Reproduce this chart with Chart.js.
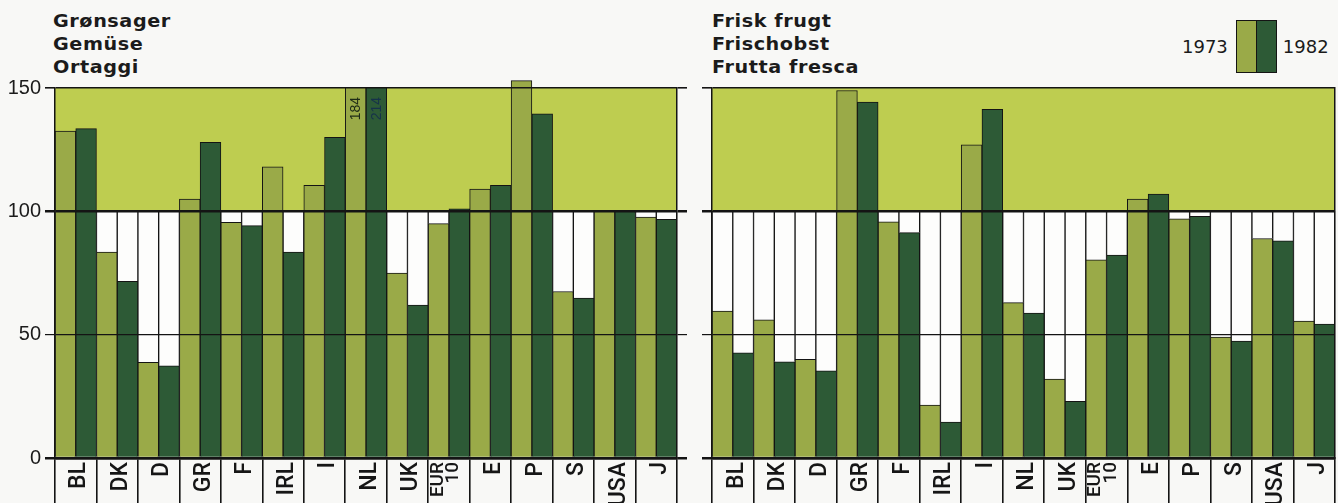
<!DOCTYPE html>
<html>
<head>
<meta charset="utf-8">
<title>Grønsager / Frisk frugt 1973–1982</title>
<script src="https://cdn.jsdelivr.net/npm/chart.js@4.4.1/dist/chart.umd.min.js"></script>
<style>
  body { margin: 0; background: #f8f8f6; }
  #wrap { position: relative; width: 1338px; height: 503px; overflow: hidden; }
  #wrap canvas { position: absolute; top: 0; }
  .title { position: absolute; top: 10px; font: bold 17px "DejaVu Sans", sans-serif; line-height: 23px; color: #1b1b1b;
           letter-spacing: 0.5px; transform: scaleX(1.13); transform-origin: left top; }
  .legend { position: absolute; top: 20px; left: 1182px; display: flex; align-items: center; font: 18px "DejaVu Sans", sans-serif; color: #1b1b1b; }
  .legend .box { display: flex; height: 51px; border: 1.5px solid #141414; margin: 0 6px 0 8px; }
  .legend .box span { width: 19px; height: 100%; }
  .legend .box span + span { border-left: 1.5px solid #141414; }
</style>
</head>
<body>
<div id="wrap">
  <div class="title" style="left:53px">Grønsager<br>Gemüse<br>Ortaggi</div>
  <div class="title" style="left:712px">Frisk frugt<br>Frischobst<br>Frutta fresca</div>
  <div class="legend" id="legend"></div>
  <canvas id="veg" width="690" height="503" style="left:0"></canvas>
  <canvas id="fruit" width="646" height="503" style="left:690px"></canvas>
</div>
<script>
// consumption index per country, 1973 and 1982
const categories = ['BL', 'DK', 'D', 'GR', 'F', 'IRL', 'I', 'NL', 'UK', ['EUR', '10'], 'E', 'P', 'S', 'USA', 'J'];
const years = ['1973', '1982'];

const veg1973 = [132.5, 83.5, 38.8, 105, 95.5, 118, 110.5, 184, 75, 95, 109, 153, 67.5, 100, 97.7];
const veg1982 = [133.5, 71.6, 37.4, 128, 94.2, 83.5, 130, 214, 62, 101, 110.5, 139.5, 64.8, 100, 96.8];

const fruit1973 = [59.6, 56, 40, 149, 95.7, 21.5, 127, 63, 32, 80.3, 105, 97, 49, 89, 55.5];
const fruit1982 = [42.6, 39, 35.3, 144.3, 91.4, 14.6, 141.4, 58.8, 23, 82.3, 107, 98, 47.4, 88, 54.3];

const yTicks = [0, 50, 100, 150];
const indexBase = 100;   // reference level, the band above it is tinted
const cutOff = 170;      // bars past this are cut at the top and get their value written in

const colors = {
  light: '#9aaa48',
  dark: '#2d5a36',
  band: '#becd50',
  frame: '#fdfdfc',
  ink: '#141414'
};

// legend: 1973 [light|dark] 1982
document.getElementById('legend').innerHTML =
  years[0] + '<div class="box"><span style="background:' + colors.light + '"></span><span style="background:' +
  colors.dark + '"></span></div>' + years[1];

const gridWidth = (ctx) => {
  const v = ctx.tick && ctx.tick.value;
  if (v === 100 || v === 0) return 2.5;
  if (v === 150) return 1.6;
  return 1.2;
};

const bandPlugin = {
  id: 'band',
  beforeDatasetsDraw(chart) {
    const { ctx, chartArea, scales } = chart;
    const top = scales.y.getPixelForValue(scales.y.max);
    const base = scales.y.getPixelForValue(indexBase);
    ctx.save();
    ctx.fillStyle = colors.band;
    ctx.fillRect(chartArea.left, top, chartArea.right - chartArea.left, base - top);
    ctx.restore();
  }
};

// bars may poke a little above the plot, except the very long ones which are cut at the top
const cutClipPlugin = {
  id: 'cutClip',
  beforeDatasetDraw(chart, args) {
    const ds = chart.data.datasets[args.index];
    if (!ds.values) return;
    const { ctx, chartArea } = chart;
    ctx.save();
    ctx.beginPath();
    ctx.rect(chartArea.left - 2, 0, chartArea.width + 4, chartArea.bottom + 2);
    args.meta.data.forEach((bar, j) => {
      if (ds.data[j] > cutOff) {
        ctx.rect(bar.x - bar.width / 2 - 1, 0, bar.width + 2, chartArea.top);
      }
    });
    ctx.clip('evenodd');
  },
  afterDatasetDraw(chart, args) {
    if (chart.data.datasets[args.index].values) chart.ctx.restore();
  }
};

// value written inside the cut bars
const cutLabelPlugin = {
  id: 'cutLabels',
  afterDatasetsDraw(chart) {
    const { ctx, chartArea } = chart;
    chart.data.datasets.forEach((ds, i) => {
      if (!ds.values) return;
      const meta = chart.getDatasetMeta(i);
      meta.data.forEach((bar, j) => {
        const v = ds.data[j];
        if (!(v > cutOff)) return;
        ctx.save();
        ctx.translate(bar.x, chartArea.top + 9);
        ctx.rotate(-Math.PI / 2);
        ctx.font = '14px "Liberation Sans", Arial, sans-serif';
        ctx.fillStyle = ds.cutLabelColor;
        ctx.textAlign = 'right';
        ctx.textBaseline = 'middle';
        ctx.fillText(String(v), 0, 1);
        ctx.restore();
      });
    });
  }
};

// the two-line "EUR 10" label sits in the left part of its slot
const twoLinePlugin = {
  id: 'twoLineLabel',
  beforeDraw(chart) {
    chart.scales.x.getLabelItems().forEach(item => {
      if (Array.isArray(item.label) && !item.moved && item.options && item.options.translation) {
        item.options.translation[0] -= 15;
        item.moved = true;
      }
    });
  }
};

// each year is a stack: the value, topped up with an empty white box to the 100 line
function buildDatasets(v73, v82) {
  const bar = {
    borderColor: colors.ink,
    borderWidth: 1,
    barPercentage: 1,
    categoryPercentage: 1,
    clip: false
  };
  const topUp = v => (v < indexBase ? indexBase - v : null);
  return [
    Object.assign({ label: years[0], stack: years[0], data: v73, backgroundColor: colors.light, values: true, cutLabelColor: '#1d2a16' }, bar),
    Object.assign({ label: years[0] + ' (rest)', stack: years[0], data: v73.map(topUp), backgroundColor: colors.frame }, bar),
    Object.assign({ label: years[1], stack: years[1], data: v82, backgroundColor: colors.dark, values: true, cutLabelColor: '#16324a' }, bar),
    Object.assign({ label: years[1] + ' (rest)', stack: years[1], data: v82.map(topUp), backgroundColor: colors.frame }, bar)
  ];
}

function makeChart(id, v73, v82, opt) {
  return new Chart(document.getElementById(id), {
    type: 'bar',
    data: { labels: categories, datasets: buildDatasets(v73, v82) },
    plugins: [bandPlugin, cutClipPlugin, cutLabelPlugin, twoLinePlugin],
    options: {
      responsive: false,
      animation: false,
      layout: { padding: { top: 88, left: 0, right: 0, bottom: 0 } },
      plugins: { legend: { display: false }, tooltip: { enabled: false } },
      scales: {
        x: {
          stacked: true,
          offset: true,
          grid: { offset: true, drawOnChartArea: false, tickLength: 45, color: colors.ink, lineWidth: 1.6, z: 1 },
          border: { color: colors.ink, width: 2.5, z: 1 },
          ticks: {
            autoSkip: false,
            minRotation: 90,
            maxRotation: 90,
            padding: -41,
            labelOffset: 4,
            color: '#161616',
            font: (c) => Array.isArray(categories[c.index])
              ? { family: 'Roboto, "Liberation Sans", sans-serif', size: 19, weight: 500, lineHeight: 0.82 }
              : { family: 'Roboto, "Liberation Sans", sans-serif', size: 23, weight: 500, lineHeight: 0.7 }
          },
          afterFit: (s) => { s.height = 45; }
        },
        y: {
          stacked: true,
          min: 0,
          max: 150,
          afterBuildTicks: (s) => { s.ticks = yTicks.map(v => ({ value: v })); },
          ticks: {
            display: opt.yLabels,
            padding: 4,
            color: '#1b1b1b',
            font: { family: '"Liberation Sans", Arial, sans-serif', size: 20 }
          },
          grid: { color: colors.ink, lineWidth: gridWidth, tickLength: 10, z: 1 },
          border: { color: colors.ink, width: 1.5, z: 1 },
          afterFit: (s) => { s.width = opt.leftWidth; }
        },
        y2: {
          position: 'right',
          min: 0,
          max: 150,
          afterBuildTicks: (s) => { s.ticks = yTicks.map(v => ({ value: v })); },
          ticks: { display: false },
          grid: { drawOnChartArea: false, drawTicks: opt.rightTick > 0, tickLength: opt.rightTick, color: colors.ink, lineWidth: gridWidth, z: 1 },
          border: { color: colors.ink, width: 1.5, z: 1 },
          afterFit: (s) => { s.width = opt.rightWidth; }
        }
      }
    }
  });
}

makeChart('veg', veg1973, veg1982, { yLabels: true, leftWidth: 55, rightWidth: 13, rightTick: 10 });
makeChart('fruit', fruit1973, fruit1982, { yLabels: false, leftWidth: 22, rightWidth: 1, rightTick: 0 });
</script>
</body>
</html>
